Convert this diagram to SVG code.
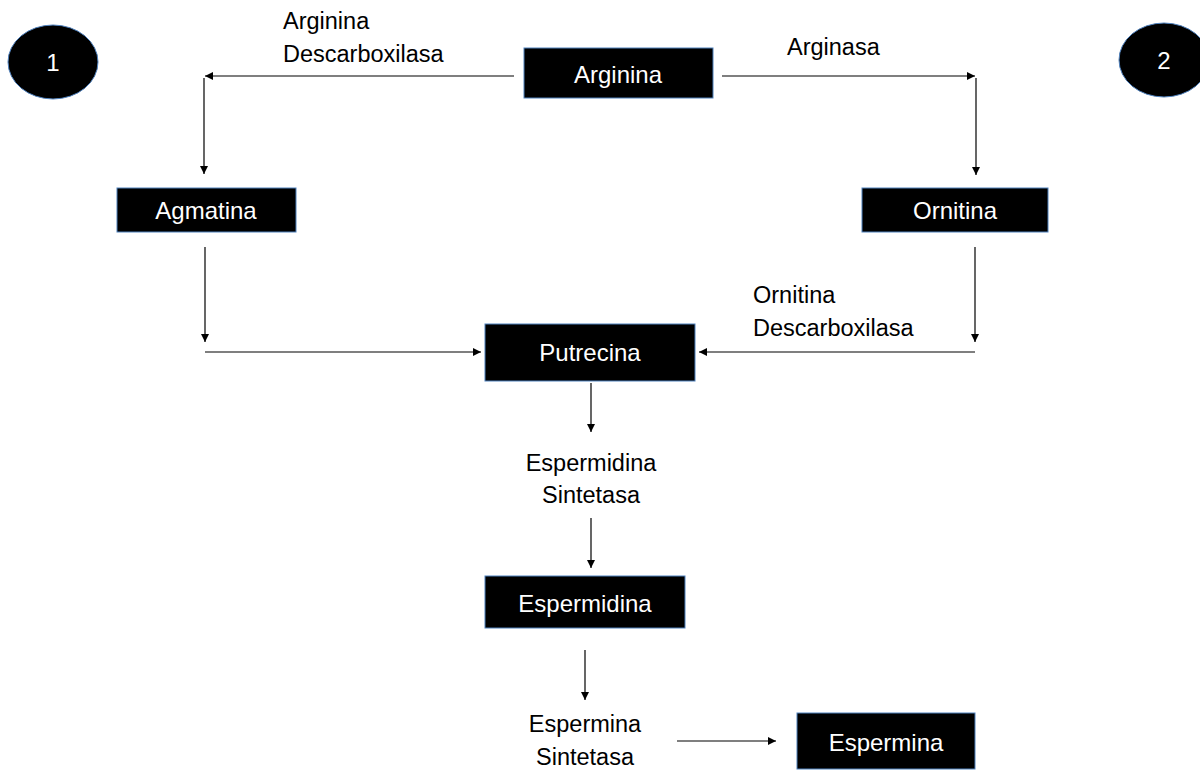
<svg xmlns="http://www.w3.org/2000/svg" width="1200" height="770" viewBox="0 0 1200 770">
<style>
.box{fill:#000;stroke:#4f81bd;stroke-width:1}
.nt{fill:#fff;font-family:"Liberation Sans",Arial,sans-serif;font-size:24px;text-anchor:middle;dominant-baseline:central}
.lb{fill:#000;font-family:"Liberation Sans",Arial,sans-serif;font-size:23.5px}
.c{stroke:#000;stroke-width:1.2;fill:none;marker-end:url(#ah)}
</style>
<defs>
<marker id="ah" viewBox="0 0 10 10" refX="10" refY="5" markerWidth="8" markerHeight="8" markerUnits="userSpaceOnUse" orient="auto">
<path d="M0,0 L10,5 L0,10 z" fill="#000"/>
</marker>
</defs>
<rect width="1200" height="770" fill="#fff"/>
<g id="badge1"><ellipse cx="53" cy="62" rx="45" ry="37" fill="#000" stroke="#4f81bd" stroke-width="1"/><text class="nt" x="53" y="62">1</text></g>
<g id="badge2"><ellipse cx="1164" cy="60" rx="45" ry="37" fill="#000" stroke="#4f81bd" stroke-width="1"/><text class="nt" x="1164" y="60">2</text></g>
<g id="arginina"><rect class="box" x="524" y="48" width="189" height="50"/><text class="nt" x="618" y="74">Arginina</text></g>
<g id="agmatina"><rect class="box" x="117" y="188" width="179" height="44"/><text class="nt" x="206" y="210">Agmatina</text></g>
<g id="ornitina"><rect class="box" x="862" y="188" width="186" height="44"/><text class="nt" x="955" y="210">Ornitina</text></g>
<g id="putrecina"><rect class="box" x="485" y="324" width="210" height="57"/><text class="nt" x="590" y="352">Putrecina</text></g>
<g id="espermidina"><rect class="box" x="485" y="576" width="200" height="52"/><text class="nt" x="585" y="603">Espermidina</text></g>
<g id="espermina"><rect class="box" x="797" y="713" width="178" height="56"/><text class="nt" x="886" y="742">Espermina</text></g>
<g id="labels">
<text class="lb" x="283" y="29">Arginina</text>
<text class="lb" x="283" y="62">Descarboxilasa</text>
<text class="lb" x="787" y="55">Arginasa</text>
<text class="lb" x="753" y="303">Ornitina</text>
<text class="lb" x="753" y="336">Descarboxilasa</text>
<text class="lb" x="591" y="471" text-anchor="middle">Espermidina</text>
<text class="lb" x="591" y="503" text-anchor="middle">Sintetasa</text>
<text class="lb" x="585" y="732" text-anchor="middle">Espermina</text>
<text class="lb" x="585" y="765" text-anchor="middle">Sintetasa</text>
</g>
<g id="connectors">
<path class="c" d="M514,76 L205,76"/>
<path class="c" d="M204,78 L204,174"/>
<path class="c" d="M722,76 L975,76"/>
<path class="c" d="M976,78 L976,175"/>
<path class="c" d="M205,247 L205,342"/>
<path class="c" d="M205,352 L481,352"/>
<path class="c" d="M975,247 L975,342"/>
<path class="c" d="M975,352 L699,352"/>
<path class="c" d="M591,383 L591,432"/>
<path class="c" d="M591,518 L591,568"/>
<path class="c" d="M585,650 L585,700"/>
<path class="c" d="M677,741 L776,741"/>
</g>
</svg>
